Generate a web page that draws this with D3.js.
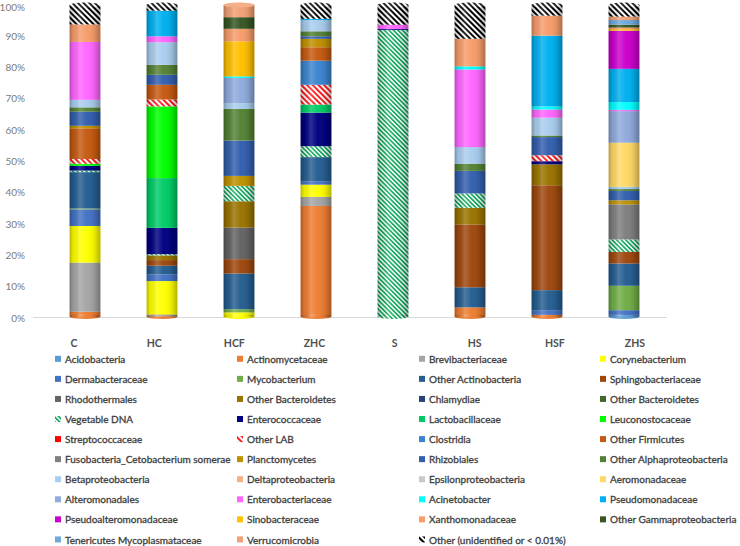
<!DOCTYPE html>
<html><head><meta charset="utf-8">
<script src="https://cdn.jsdelivr.net/npm/d3@7/dist/d3.min.js"></script>
<style>
html,body{margin:0;padding:0;background:#fff;}
svg{display:block;}
</style></head>
<body>
<svg id="chart" width="740" height="546"></svg>
<script>
const categories = ["C","HC","HCF","ZHC","S","HS","HSF","ZHS"];
const seriesNames = [
 "Acidobacteria","Actinomycetaceae","Brevibacteriaceae","Corynebacterium",
 "Dermabacteraceae","Mycobacterium","Other Actinobacteria","Sphingobacteriaceae",
 "Rhodothermales","Other Bacteroidetes","Chlamydiae","Other Bacteroidetes",
 "Vegetable DNA","Enterococcaceae","Lactobacillaceae","Leuconostocaceae",
 "Streptococcaceae","Other LAB","Clostridia","Other Firmicutes",
 "Fusobacteria_Cetobacterium somerae","Planctomycetes","Rhizobiales","Other Alphaproteobacteria",
 "Betaproteobacteria","Deltaproteobacteria","Epsilonproteobacteria","Aeromonadaceae",
 "Alteromonadales","Enterobacteriaceae","Acinetobacter","Pseudomonadaceae",
 "Pseudoalteromonadaceae","Sinobacteraceae","Xanthomonadaceae","Other Gammaproteobacteria",
 "Tenericutes Mycoplasmataceae","Verrucomicrobia","Other (unidentified or < 0.01%)"
];
const seriesColors = [
 "#5B9BD5","#ED7D31","#A5A5A5","#FFFF00",
 "#4472C4","#70AD47","#255E91","#9E480E",
 "#636363","#997300","#264478","#43682B",
 "pattern:veg","#000080","#00CC66","#00FF00",
 "#FF0000","pattern:lab","#3B84CF","#C55A11",
 "#7F7F7F","#BF9000","#335FAE","#548235",
 "#A9CDEE","#F4B183","#C9C9C9","#FFD966",
 "#8FAADC","#FF66FF","#00FFFF","#00B0F0",
 "#CC00CC","#FFC000","#F79C6B","#375623",
 "#6FA8DC","#F2A074","pattern:other"
];
const yTicks = [0,10,20,30,40,50,60,70,80,90,100];

// values (%) per category, in the order of seriesNames
const valuesC   = [0,2.0,15.7,11.7,5.3,0.3,11.6,0,0,0, 0,0,0.5,1.5,0,0.7,0,1.5,0,9.8, 0,0.8,4.5,1.4,2.4,0,0,0,0,18.5, 0,0,0,0,5.6,0,0,0,6.2];
const valuesHC  = [0,0.5,0.6,10.7,2.1,0,2.8,1.8,0,1.5, 0,0,0.4,8.4,15.9,22.9,0,2.2,0,4.7, 0,0,3.2,3.2,7.2,0,0,0,0,1.9, 0,8.2,0,0,0,0,0,0,1.8];
const valuesHCF = [0,0,0,1.8,0,1.0,11.4,4.6,10.1,8.4, 0,0,4.9,0,0,0,0,0,0,0, 0,3.2,11.3,10.1,1.8,0,0,0,8.1,0, 0.5,0,0,11.2,4.0,3.7,0,3.9,0];
const valuesZHC = [0,35.8,2.9,3.9,1.1,0,7.7,0,0,0, 0,0,3.5,10.7,2.6,0,0,6.3,7.7,4.3, 0,2.7,0.8,1.6,3.6,0,0,0,0,0, 0,0.4,0,0,0,0,0,0,4.4];
const valuesS   = [0,0,0,0,0,0,0,0,0,0, 0,0,92.0,0.3,0,0,0,0,0,0, 0,0,0,0,0,0,0,0,0,1.4, 0,0,0,0,0,0,0,0,6.3];
const valuesHS  = [0,3.4,0,0,0,0,6.4,20.1,0,5.3, 0,0,4.6,0,0,0,0,0,0,0, 0,0,7.2,2.3,5.3,0,0,0,0,24.8, 1.0,0,0,0,8.8,0,0,0,10.8];
const valuesHSF = [0,1.0,0,0,1.5,0,6.4,33.5,0,6.7, 0,0,0,1.0,0,0,0,1.9,0,0, 0,0,5.8,0.5,5.7,0,0,0,0,2.6, 1.0,22.6,0,0,6.4,0,0,0,3.4];
const valuesZHS = [1.0,0,0,0,1.5,7.8,7.1,3.7,0,0, 0,0,4.0,0,0,0,0,0,0,0, 11.2,1.3,3.0,0.6,0.7,0,0,14.1,10.1,0.4, 2.5,10.6,12.2,0.5,0.5,0.9,1.5,1.1,3.7];
const categoryValues = [valuesC,valuesHC,valuesHCF,valuesZHC,valuesS,valuesHS,valuesHSF,valuesZHS];

const svg = d3.select("#chart");
const defs = svg.append("defs");

function stripePattern(id, color, period, lineW){
  const p = defs.append("pattern").attr("id", id).attr("patternUnits","userSpaceOnUse")
    .attr("width", period).attr("height", period).attr("patternTransform","rotate(-45)");
  p.append("rect").attr("width",period).attr("height",period).attr("fill","#fff");
  p.append("rect").attr("width",lineW).attr("height",period).attr("fill",color);
}
stripePattern("veg","#0DA85A",3.2,1.7);
stripePattern("lab","#FF1A1A",4,2);
stripePattern("other","#000",4,2);
const fillOf = i => seriesColors[i].startsWith("pattern:") ? `url(#${seriesColors[i].slice(8)})` : seriesColors[i];

const shade = defs.append("linearGradient").attr("id","shade").attr("x1","0").attr("x2","1").attr("y1","0").attr("y2","0");
[[0,"#000",0.28],[0.12,"#000",0.08],[0.33,"#fff",0.18],[0.55,"#fff",0.02],[0.8,"#000",0.08],[1,"#000",0.3]]
  .forEach(([o,c,a])=>shade.append("stop").attr("offset",o).attr("stop-color",c).attr("stop-opacity",a));

const x = d3.scaleBand().domain(categories).range([46.5,662.5]).paddingInner(0.6).paddingOuter(0.3);
const xLabel = d3.scaleBand().domain(categories).range([34,675]);
const y = d3.scaleLinear().domain([0,100]).range([318,5]);

const keys = seriesNames.map((d,i)=>i);
const rows = categories.map((c,ci)=>{ const r={cat:c}; keys.forEach(k=>r[k]=categoryValues[ci][k]); return r; });
const stacked = d3.stack().keys(keys)(rows);

// y labels
svg.append("g").selectAll("text").data(yTicks).join("text")
  .attr("x",25).attr("y",d=>Math.max(y(d)+3.5,11)).attr("text-anchor","end")
  .attr("font-family","Lato, 'Liberation Sans', sans-serif").attr("font-size",10).attr("fill","#7a7a7a")
  .text(d=>d+"%");

// floor line
svg.append("line").attr("x1",33).attr("x2",667).attr("y1",317.5).attr("y2",317.5)
  .attr("stroke","#D9D9D9").attr("stroke-width",1.2);

const bw = x.bandwidth();
const bottomIdx = categoryValues.map(v=>v.findIndex(d=>d>0));
const topIdx = categoryValues.map(v=>{for(let i=v.length-1;i>=0;i--) if(v[i]>0) return i; return 0;});
const gBars = svg.append("g");
gBars.selectAll("ellipse.bot").data(categories).join("ellipse")
  .attr("cx",d=>x(d)+bw/2).attr("cy",y(0)-1.5).attr("rx",bw/2).attr("ry",2.5)
  .attr("fill",(d,i)=>fillOf(bottomIdx[i]));

gBars.selectAll("g.layer").data(stacked).join("g").attr("class","layer")
  .attr("fill",s=>fillOf(s.key))
  .selectAll("rect").data(s=>s.filter(d=>d[1]-d[0]>0)).join("rect")
  .attr("x",d=>x(d.data.cat)).attr("width",bw)
  .attr("y",d=>y(d[1])).attr("height",d=>Math.min(y(d[0]),y(0)-1.5)-y(d[1]));

// cylinder shading
gBars.selectAll("rect.shade").data(categories).join("rect").attr("class","shade")
  .attr("x",d=>x(d)).attr("width",bw).attr("y",y(100)).attr("height",y(0)-y(100)-1.5)
  .attr("fill","url(#shade)");
gBars.selectAll("ellipse.botshade").data(categories).join("ellipse")
  .attr("cx",d=>x(d)+bw/2).attr("cy",y(0)-1.5).attr("rx",bw/2).attr("ry",2.5)
  .attr("fill","url(#shade)");
gBars.selectAll("ellipse.top").data(categories).join("ellipse")
  .attr("cx",d=>x(d)+bw/2).attr("cy",y(100)).attr("rx",bw/2).attr("ry",2.5)
  .attr("fill",(d,i)=>fillOf(topIdx[i]));
gBars.selectAll("ellipse.topshade").data(categories).join("ellipse")
  .attr("cx",d=>x(d)+bw/2).attr("cy",y(100)).attr("rx",bw/2).attr("ry",2.5)
  .attr("fill","#fff").attr("fill-opacity",0.15);

// x labels
svg.append("g").selectAll("text").data(categories).join("text")
  .attr("x",d=>xLabel(d)+xLabel.bandwidth()/2).attr("y",347).attr("text-anchor","middle")
  .attr("font-family","Lato, 'Liberation Sans', sans-serif").attr("font-weight","bold")
  .attr("font-size",10.5).attr("fill","#505050").text(d=>d);

// legend
const legendColX = [56,238,420,601];
const leg = svg.append("g").selectAll("g").data(seriesNames).join("g")
  .attr("transform",(d,i)=>`translate(${legendColX[i%4]},${359.3+Math.floor(i/4)*20.07})`);
leg.append("rect").attr("x",-1).attr("y",-3.5).attr("width",6).attr("height",6)
  .attr("fill",(d,i)=>fillOf(i));
leg.append("text").attr("x",9).attr("y",3.6)
  .attr("font-family","Lato, 'Liberation Sans', sans-serif")
  .attr("font-size",10).attr("fill","#404040")
  .attr("stroke","#404040").attr("stroke-width",0.3).text(d=>d);
</script>
</body></html>
